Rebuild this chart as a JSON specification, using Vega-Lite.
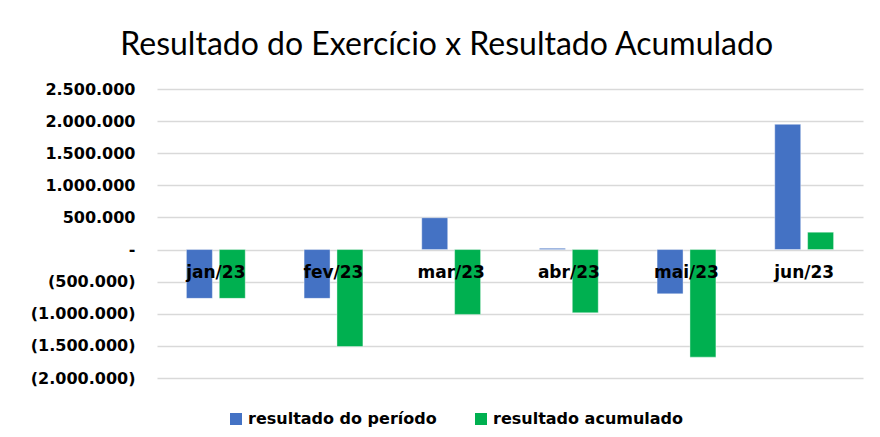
{
  "$schema": "https://vega.github.io/schema/vega-lite/v6.json",
  "width": 880,
  "height": 437,
  "autosize": {"type": "fit", "contains": "padding"},
  "padding": {"left": 30, "right": 17, "top": 29, "bottom": 51},
  "background": "#ffffff",
  "config": {
    "locale": {"number": {"decimal": ",", "thousands": ".", "grouping": [3], "currency": ["", ""]}},
    "view": {"stroke": null},
    "font": "DejaVu Sans"
  },
  "title": {
    "text": "Resultado do Exercício x Resultado Acumulado",
    "font": "Lato",
    "fontSize": 32,
    "fontWeight": "normal",
    "color": "#000000",
    "anchor": "middle",
    "frame": "bounds",
    "offset": 19
  },
  "data": {
    "values": [
      {"mes": "jan/23", "serie": "resultado do período", "valor": -760000},
      {"mes": "jan/23", "serie": "resultado acumulado", "valor": -760000},
      {"mes": "fev/23", "serie": "resultado do período", "valor": -760000},
      {"mes": "fev/23", "serie": "resultado acumulado", "valor": -1510000},
      {"mes": "mar/23", "serie": "resultado do período", "valor": 495000},
      {"mes": "mar/23", "serie": "resultado acumulado", "valor": -1010000},
      {"mes": "abr/23", "serie": "resultado do período", "valor": 20000},
      {"mes": "abr/23", "serie": "resultado acumulado", "valor": -985000},
      {"mes": "mai/23", "serie": "resultado do período", "valor": -690000},
      {"mes": "mai/23", "serie": "resultado acumulado", "valor": -1675000},
      {"mes": "jun/23", "serie": "resultado do período", "valor": 1950000},
      {"mes": "jun/23", "serie": "resultado acumulado", "valor": 270000}
    ]
  },
  "mark": {"type": "bar", "stroke": "#ffffff", "strokeOpacity": 0.4, "strokeWidth": 1},
  "encoding": {
    "x": {
      "field": "mes",
      "type": "nominal",
      "sort": ["jan/23", "fev/23", "mar/23", "abr/23", "mai/23", "jun/23"],
      "scale": {"paddingInner": 0.5, "paddingOuter": 0.25},
      "axis": {
        "title": null,
        "orient": "bottom",
        "offset": -129,
        "domain": false,
        "ticks": false,
        "labelAngle": 0,
        "labelFont": "DejaVu Sans",
        "labelFontWeight": "bold",
        "labelFontSize": 17,
        "labelColor": "#000000",
        "labelPadding": 15,
        "labelBaseline": "top",
        "zindex": 1
      }
    },
    "xOffset": {
      "field": "serie",
      "type": "nominal",
      "sort": ["resultado do período", "resultado acumulado"],
      "scale": {"paddingInner": 0.21, "paddingOuter": 0}
    },
    "y": {
      "field": "valor",
      "type": "quantitative",
      "scale": {"domain": [-2000000, 2500000], "nice": false, "zero": true},
      "axis": {
        "title": null,
        "values": [-2000000, -1500000, -1000000, -500000, 0, 500000, 1000000, 1500000, 2000000, 2500000],
        "labelExpr": "datum.value == 0 ? '-\u00a0\u00a0' : (datum.value < 0 ? '(' + format(-datum.value, ',.0f') + ')' : format(datum.value, ',.0f') + '\u00a0')",
        "domain": false,
        "ticks": false,
        "grid": true,
        "gridColor": "#D9D9D9",
        "gridWidth": 1.5,
        "labelFont": "DejaVu Sans",
        "labelFontWeight": "bold",
        "labelFontSize": 16,
        "labelColor": "#000000",
        "labelPadding": 22
      }
    },
    "color": {
      "field": "serie",
      "type": "nominal",
      "sort": ["resultado do período", "resultado acumulado"],
      "scale": {"domain": ["resultado do período", "resultado acumulado"], "range": ["#4472C4", "#00B050"]},
      "legend": {
        "title": null,
        "orient": "none",
        "legendX": 71,
        "legendY": 322,
        "direction": "horizontal",
        "symbolType": "square",
        "symbolSize": 144,
        "symbolStrokeWidth": 0,
        "labelFont": "DejaVu Sans",
        "labelFontWeight": "bold",
        "labelFontSize": 16,
        "labelColor": "#000000",
        "labelLimit": 400,
        "columnPadding": 36
      }
    }
  }
}
